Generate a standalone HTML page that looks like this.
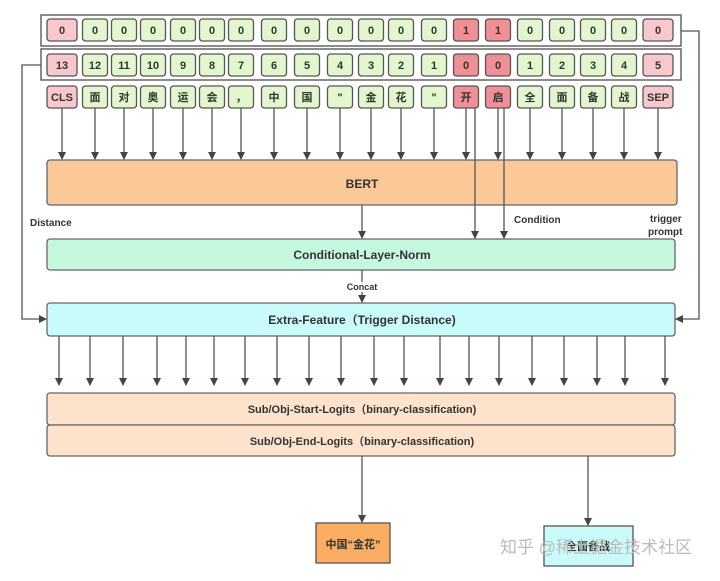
<!DOCTYPE html>
<html><head><meta charset="utf-8"><style>
html,body{margin:0;padding:0;background:#fff;}
svg{display:block;}
text{font-family:"Liberation Sans","Noto Sans CJK SC",sans-serif;font-weight:bold;fill:#333;}
.g rect{fill:#e3f7cf;stroke:#555;stroke-width:1.3;}
.p rect{fill:#f8c8cc;stroke:#555;stroke-width:1.3;}
.r rect{fill:#f08f96;stroke:#555;stroke-width:1.3;}
.c text{font-size:11px;text-anchor:middle;}
.c line,.o line{stroke:#555;stroke-width:1.3;}
</style></head><body>
<svg width="720" height="581" viewBox="0 0 720 581" xmlns="http://www.w3.org/2000/svg">
<defs><marker id="a" markerWidth="8" markerHeight="8" refX="7" refY="4" orient="auto" markerUnits="userSpaceOnUse"><path d="M0,0 L8,4 L0,8 z" fill="#444"/></marker></defs>
<rect x="41" y="15" width="640" height="31" fill="#fff" stroke="#666" stroke-width="1.5"/>
<rect x="41" y="49" width="640" height="31" fill="#fff" stroke="#666" stroke-width="1.5"/>

<g class="c p" transform="translate(62,0)"><rect x="-15" y="19" width="30" height="22" rx="3"/><text y="34">0</text><rect x="-15" y="54" width="30" height="22" rx="3"/><text y="69">13</text><rect x="-15" y="86" width="30" height="22" rx="3"/><text y="101">CLS</text><line y1="108" y2="159" marker-end="url(#a)"/></g>
<g class="c g" transform="translate(95,0)"><rect x="-12.5" y="19" width="25" height="22" rx="3"/><text y="34">0</text><rect x="-12.5" y="54" width="25" height="22" rx="3"/><text y="69">12</text><rect x="-12.5" y="86" width="25" height="22" rx="3"/><text y="101">面</text><line y1="108" y2="159" marker-end="url(#a)"/></g>
<g class="c g" transform="translate(124,0)"><rect x="-12.5" y="19" width="25" height="22" rx="3"/><text y="34">0</text><rect x="-12.5" y="54" width="25" height="22" rx="3"/><text y="69">11</text><rect x="-12.5" y="86" width="25" height="22" rx="3"/><text y="101">对</text><line y1="108" y2="159" marker-end="url(#a)"/></g>
<g class="c g" transform="translate(153,0)"><rect x="-12.5" y="19" width="25" height="22" rx="3"/><text y="34">0</text><rect x="-12.5" y="54" width="25" height="22" rx="3"/><text y="69">10</text><rect x="-12.5" y="86" width="25" height="22" rx="3"/><text y="101">奥</text><line y1="108" y2="159" marker-end="url(#a)"/></g>
<g class="c g" transform="translate(183,0)"><rect x="-12.5" y="19" width="25" height="22" rx="3"/><text y="34">0</text><rect x="-12.5" y="54" width="25" height="22" rx="3"/><text y="69">9</text><rect x="-12.5" y="86" width="25" height="22" rx="3"/><text y="101">运</text><line y1="108" y2="159" marker-end="url(#a)"/></g>
<g class="c g" transform="translate(212,0)"><rect x="-12.5" y="19" width="25" height="22" rx="3"/><text y="34">0</text><rect x="-12.5" y="54" width="25" height="22" rx="3"/><text y="69">8</text><rect x="-12.5" y="86" width="25" height="22" rx="3"/><text y="101">会</text><line y1="108" y2="159" marker-end="url(#a)"/></g>
<g class="c g" transform="translate(241,0)"><rect x="-12.5" y="19" width="25" height="22" rx="3"/><text y="34">0</text><rect x="-12.5" y="54" width="25" height="22" rx="3"/><text y="69">7</text><rect x="-12.5" y="86" width="25" height="22" rx="3"/><text y="101">，</text><line y1="108" y2="159" marker-end="url(#a)"/></g>
<g class="c g" transform="translate(274,0)"><rect x="-12.5" y="19" width="25" height="22" rx="3"/><text y="34">0</text><rect x="-12.5" y="54" width="25" height="22" rx="3"/><text y="69">6</text><rect x="-12.5" y="86" width="25" height="22" rx="3"/><text y="101">中</text><line y1="108" y2="159" marker-end="url(#a)"/></g>
<g class="c g" transform="translate(307,0)"><rect x="-12.5" y="19" width="25" height="22" rx="3"/><text y="34">0</text><rect x="-12.5" y="54" width="25" height="22" rx="3"/><text y="69">5</text><rect x="-12.5" y="86" width="25" height="22" rx="3"/><text y="101">国</text><line y1="108" y2="159" marker-end="url(#a)"/></g>
<g class="c g" transform="translate(340,0)"><rect x="-12.5" y="19" width="25" height="22" rx="3"/><text y="34">0</text><rect x="-12.5" y="54" width="25" height="22" rx="3"/><text y="69">4</text><rect x="-12.5" y="86" width="25" height="22" rx="3"/><text y="101">"</text><line y1="108" y2="159" marker-end="url(#a)"/></g>
<g class="c g" transform="translate(371,0)"><rect x="-12.5" y="19" width="25" height="22" rx="3"/><text y="34">0</text><rect x="-12.5" y="54" width="25" height="22" rx="3"/><text y="69">3</text><rect x="-12.5" y="86" width="25" height="22" rx="3"/><text y="101">金</text><line y1="108" y2="159" marker-end="url(#a)"/></g>
<g class="c g" transform="translate(401,0)"><rect x="-12.5" y="19" width="25" height="22" rx="3"/><text y="34">0</text><rect x="-12.5" y="54" width="25" height="22" rx="3"/><text y="69">2</text><rect x="-12.5" y="86" width="25" height="22" rx="3"/><text y="101">花</text><line y1="108" y2="159" marker-end="url(#a)"/></g>
<g class="c g" transform="translate(434,0)"><rect x="-12.5" y="19" width="25" height="22" rx="3"/><text y="34">0</text><rect x="-12.5" y="54" width="25" height="22" rx="3"/><text y="69">1</text><rect x="-12.5" y="86" width="25" height="22" rx="3"/><text y="101">"</text><line y1="108" y2="159" marker-end="url(#a)"/></g>
<g class="c r" transform="translate(466,0)"><rect x="-12.5" y="19" width="25" height="22" rx="3"/><text y="34">1</text><rect x="-12.5" y="54" width="25" height="22" rx="3"/><text y="69">0</text><rect x="-12.5" y="86" width="25" height="22" rx="3"/><text y="101">开</text><line y1="108" y2="159" marker-end="url(#a)"/></g>
<g class="c r" transform="translate(498,0)"><rect x="-12.5" y="19" width="25" height="22" rx="3"/><text y="34">1</text><rect x="-12.5" y="54" width="25" height="22" rx="3"/><text y="69">0</text><rect x="-12.5" y="86" width="25" height="22" rx="3"/><text y="101">启</text><line y1="108" y2="159" marker-end="url(#a)"/></g>
<g class="c g" transform="translate(530,0)"><rect x="-12.5" y="19" width="25" height="22" rx="3"/><text y="34">0</text><rect x="-12.5" y="54" width="25" height="22" rx="3"/><text y="69">1</text><rect x="-12.5" y="86" width="25" height="22" rx="3"/><text y="101">全</text><line y1="108" y2="159" marker-end="url(#a)"/></g>
<g class="c g" transform="translate(562,0)"><rect x="-12.5" y="19" width="25" height="22" rx="3"/><text y="34">0</text><rect x="-12.5" y="54" width="25" height="22" rx="3"/><text y="69">2</text><rect x="-12.5" y="86" width="25" height="22" rx="3"/><text y="101">面</text><line y1="108" y2="159" marker-end="url(#a)"/></g>
<g class="c g" transform="translate(593,0)"><rect x="-12.5" y="19" width="25" height="22" rx="3"/><text y="34">0</text><rect x="-12.5" y="54" width="25" height="22" rx="3"/><text y="69">3</text><rect x="-12.5" y="86" width="25" height="22" rx="3"/><text y="101">备</text><line y1="108" y2="159" marker-end="url(#a)"/></g>
<g class="c g" transform="translate(624,0)"><rect x="-12.5" y="19" width="25" height="22" rx="3"/><text y="34">0</text><rect x="-12.5" y="54" width="25" height="22" rx="3"/><text y="69">4</text><rect x="-12.5" y="86" width="25" height="22" rx="3"/><text y="101">战</text><line y1="108" y2="159" marker-end="url(#a)"/></g>
<g class="c p" transform="translate(658,0)"><rect x="-15" y="19" width="30" height="22" rx="3"/><text y="34">0</text><rect x="-15" y="54" width="30" height="22" rx="3"/><text y="69">5</text><rect x="-15" y="86" width="30" height="22" rx="3"/><text y="101">SEP</text><line y1="108" y2="159" marker-end="url(#a)"/></g>

<rect x="47" y="160" width="630" height="45" rx="3" fill="#fbc898" stroke="#666" stroke-width="1.3"/>
<text x="362" y="188" font-size="12" text-anchor="middle">BERT</text>
<rect x="47" y="239" width="628" height="31" rx="3" fill="#c6f8df" stroke="#666" stroke-width="1.3"/>
<text x="362" y="259" font-size="12" text-anchor="middle">Conditional-Layer-Norm</text>
<rect x="47" y="303" width="628" height="33" rx="3" fill="#c9fbfb" stroke="#666" stroke-width="1.3"/>
<text x="362" y="324" font-size="12" text-anchor="middle">Extra-Feature（Trigger Distance)</text>

<g class="o">
<line x1="59" y1="336" x2="59" y2="385" marker-end="url(#a)"/>
<line x1="90" y1="336" x2="90" y2="385" marker-end="url(#a)"/>
<line x1="123" y1="336" x2="123" y2="385" marker-end="url(#a)"/>
<line x1="157" y1="336" x2="157" y2="385" marker-end="url(#a)"/>
<line x1="186" y1="336" x2="186" y2="385" marker-end="url(#a)"/>
<line x1="214" y1="336" x2="214" y2="385" marker-end="url(#a)"/>
<line x1="245" y1="336" x2="245" y2="385" marker-end="url(#a)"/>
<line x1="277" y1="336" x2="277" y2="385" marker-end="url(#a)"/>
<line x1="309" y1="336" x2="309" y2="385" marker-end="url(#a)"/>
<line x1="341" y1="336" x2="341" y2="385" marker-end="url(#a)"/>
<line x1="374" y1="336" x2="374" y2="385" marker-end="url(#a)"/>
<line x1="404" y1="336" x2="404" y2="385" marker-end="url(#a)"/>
<line x1="440" y1="336" x2="440" y2="385" marker-end="url(#a)"/>
<line x1="469" y1="336" x2="469" y2="385" marker-end="url(#a)"/>
<line x1="499" y1="336" x2="499" y2="385" marker-end="url(#a)"/>
<line x1="532" y1="336" x2="532" y2="385" marker-end="url(#a)"/>
<line x1="564" y1="336" x2="564" y2="385" marker-end="url(#a)"/>
<line x1="597" y1="336" x2="597" y2="385" marker-end="url(#a)"/>
<line x1="625" y1="336" x2="625" y2="385" marker-end="url(#a)"/>
<line x1="665" y1="336" x2="665" y2="385" marker-end="url(#a)"/>
</g>

<rect x="47" y="393" width="628" height="32" rx="3" fill="#fde3cc" stroke="#666" stroke-width="1.3"/>
<text x="362" y="413" font-size="11" text-anchor="middle">Sub/Obj-Start-Logits（binary-classification)</text>
<rect x="47" y="425" width="628" height="31" rx="3" fill="#fde3cc" stroke="#666" stroke-width="1.3"/>
<text x="362" y="445" font-size="11" text-anchor="middle">Sub/Obj-End-Logits（binary-classification)</text>
<g stroke="#555" stroke-width="1.3" fill="none">
<line x1="475" y1="108" x2="475" y2="238" marker-end="url(#a)"/>
<line x1="504" y1="108" x2="504" y2="238" marker-end="url(#a)"/>
<line x1="362" y1="205" x2="362" y2="238" marker-end="url(#a)"/>
<line x1="362" y1="270" x2="362" y2="302" marker-end="url(#a)"/>
<polyline points="41,65 22,65 22,319 46,319" marker-end="url(#a)"/>
<polyline points="681,31 699,31 699,319 676,319" marker-end="url(#a)"/>
<line x1="362" y1="456" x2="362" y2="522" marker-end="url(#a)"/>
<line x1="588" y1="456" x2="588" y2="525" marker-end="url(#a)"/>
</g>
<text x="30" y="226" font-size="10">Distance</text>
<text x="514" y="223" font-size="10">Condition</text>
<text x="650" y="222" font-size="10">trigger</text>
<text x="648" y="235" font-size="10">prompt</text>
<rect x="346" y="282" width="32" height="10" fill="#fff"/>
<text x="362" y="290" font-size="9" text-anchor="middle">Concat</text>
<rect x="316" y="523" width="74" height="40" fill="#fbad62" stroke="#555" stroke-width="1.3"/>
<text x="353" y="548" font-size="11" text-anchor="middle">中国“金花”</text>
<rect x="544" y="526" width="89" height="40" fill="#c9fbfb" stroke="#555" stroke-width="1.3"/>
<text x="588" y="550" font-size="11" text-anchor="middle">全面备战</text>
<text x="500" y="553" font-size="17" style="font-weight:normal;fill:#bbb">知乎 @稀土掘金技术社区</text>
</svg>
</body></html>
